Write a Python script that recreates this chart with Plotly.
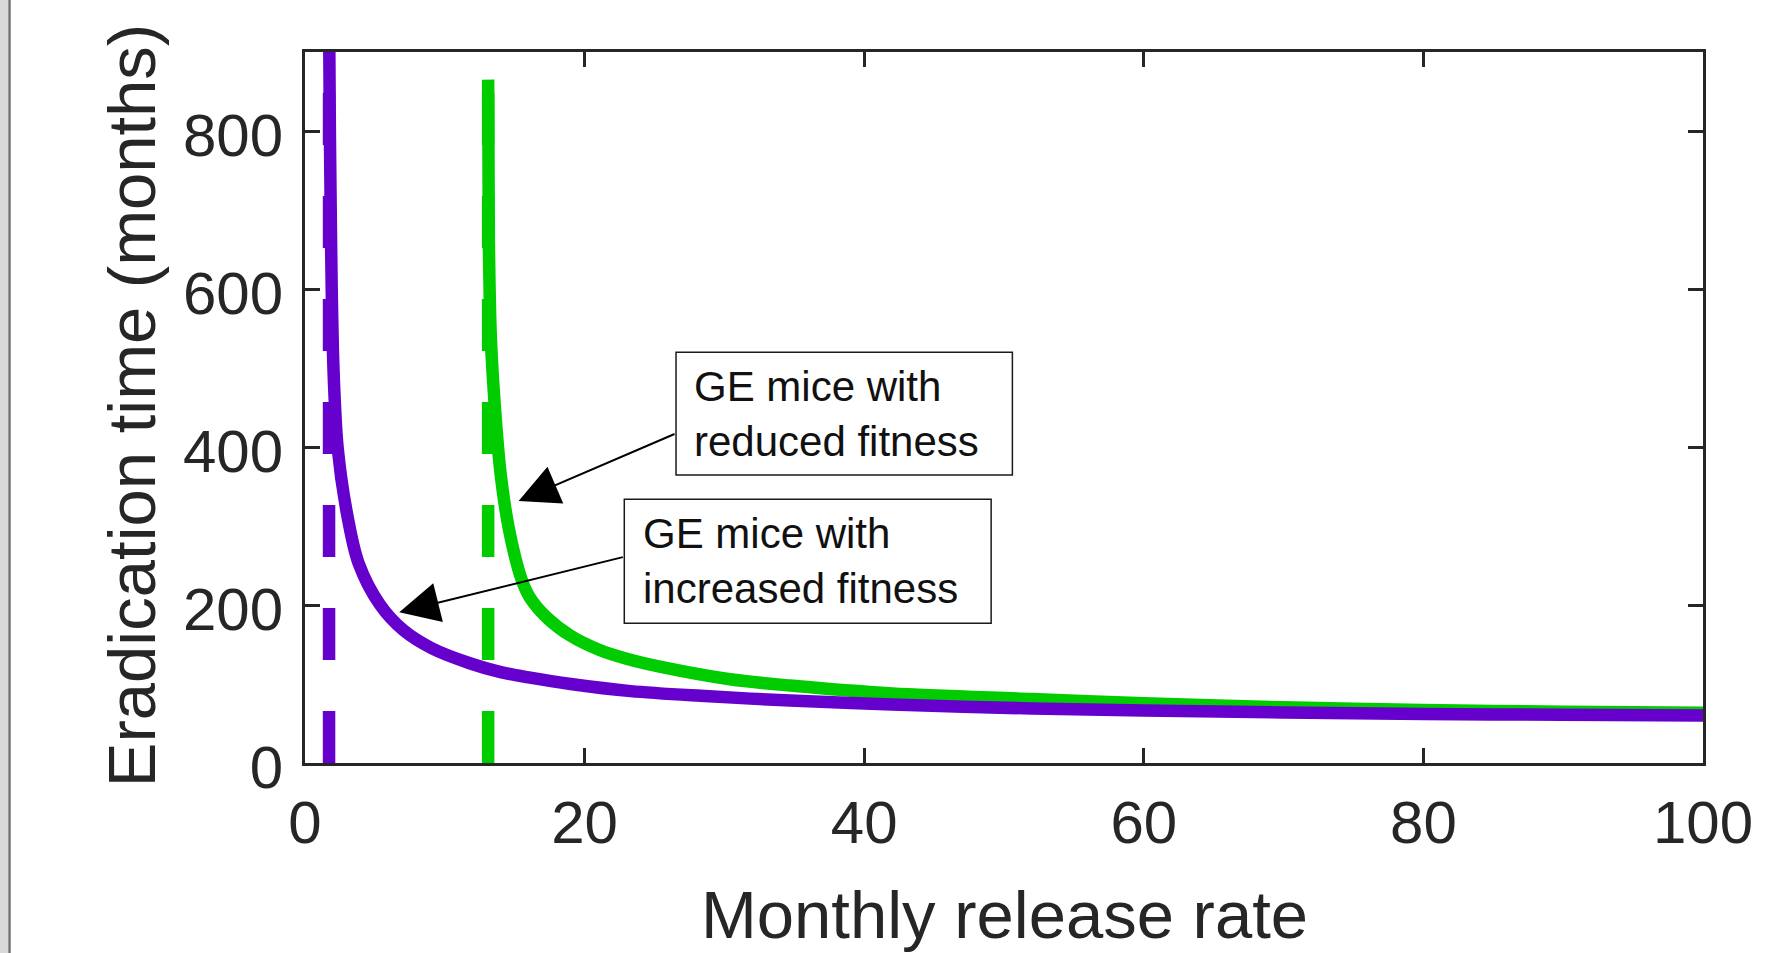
import plotly.graph_objects as go

# ---------------- data ----------------
# GE mice with increased fitness (purple)
inc_x = [1.74, 1.78, 1.84, 1.91, 2.0, 2.1, 2.33, 3.0, 3.83, 5.38, 7.05, 9.1,
         11.84, 14, 16.1, 19, 23.3, 28.3, 34.7, 42, 52, 60, 70, 80, 90, 100]
inc_y = [900, 800, 700, 600, 520, 470, 400, 316, 253, 200, 168, 145,
         126, 115, 108, 100, 91, 85, 79, 74, 69, 66.5, 64, 62, 61, 60]
# GE mice with reduced fitness (green)
red_x = [13.1, 13.15, 13.3, 13.58, 14.0, 14.6, 15.5, 16.1, 17.3, 19, 21.07, 23,
         25.64, 30.4, 34.7, 42, 52, 60, 70, 80, 90, 100]
red_y = [865, 662, 536, 451, 365, 295, 232, 209, 184, 161, 143, 132,
         121, 106, 98, 88, 81, 75.5, 70.5, 67, 65, 63.5]
# critical release rates (dashed vertical asymptotes)
inc_crit_x = [1.72, 1.72]
inc_crit_y = [0, 900]
red_crit_x = [13.1, 13.1]
red_crit_y = [0, 865]

x_ticks = [0, 20, 40, 60, 80, 100]
y_ticks = [0, 200, 400, 600, 800]

label_inc = "GE mice with<br>increased fitness"
label_red = "GE mice with<br>reduced fitness"

PURPLE = "#6600CC"
GREEN = "#00CC00"
AX = "#262626"
FONT = "Liberation Sans, Arial, Helvetica, sans-serif"
LW = 12.5
DASH = "52px,51px"

fig = go.Figure()
fig.add_trace(go.Scatter(x=red_crit_x, y=red_crit_y, mode="lines",
                         line=dict(color=GREEN, width=LW, dash=DASH), showlegend=False))
fig.add_trace(go.Scatter(x=red_x, y=red_y, mode="lines",
                         line=dict(color=GREEN, width=LW, shape="spline", smoothing=0.9),
                         showlegend=False))
fig.add_trace(go.Scatter(x=inc_crit_x, y=inc_crit_y, mode="lines",
                         line=dict(color=PURPLE, width=LW, dash=DASH), showlegend=False))
fig.add_trace(go.Scatter(x=inc_x, y=inc_y, mode="lines",
                         line=dict(color=PURPLE, width=LW, shape="spline", smoothing=0.9),
                         showlegend=False))

axis_common = dict(
    showline=True, linewidth=3, linecolor=AX, mirror="allticks",
    ticks="inside", ticklen=15, tickwidth=2.5, tickcolor=AX,
    showgrid=False, zeroline=False,
    tickfont=dict(family=FONT, size=60, color=AX),
)

fig.update_layout(
    width=1771, height=953,
    margin=dict(l=305, r=68, t=52, b=190),
    paper_bgcolor="white", plot_bgcolor="white",
    font=dict(family=FONT, color=AX),
    xaxis=dict(range=[0, 100], tickvals=x_ticks, ticklabelstandoff=5, **axis_common),
    yaxis=dict(range=[0, 900], tickvals=y_ticks, ticklabelstandoff=7,
               ticklabelshift=4, **axis_common),
)

# text boxes
fig.add_shape(type="rect", xref="x", yref="y", x0=26.54, x1=50.6, y0=364.6, y1=519.9,
              line=dict(color="#1a1a1a", width=1.5), fillcolor="white", layer="above")
fig.add_shape(type="rect", xref="x", yref="y", x0=22.84, x1=49.08, y0=176.8, y1=333.8,
              line=dict(color="#1a1a1a", width=1.5), fillcolor="white", layer="above")

fig.add_annotation(x=27.7, y=442.2, xref="x", yref="y", text=label_red, showarrow=False,
                   xanchor="left", yanchor="middle", align="left",
                   font=dict(family=FONT, size=42, color="#111111"))
fig.add_annotation(x=24.06, y=255.3, xref="x", yref="y", text=label_inc, showarrow=False,
                   xanchor="left", yanchor="middle", align="left",
                   font=dict(family=FONT, size=42, color="#111111"))

# arrows
fig.add_annotation(x=15.28, y=331.6, ax=26.54, ay=417.3, xref="x", yref="y",
                   axref="x", ayref="y", text="", showarrow=True,
                   arrowhead=2, arrowsize=4, arrowwidth=2, arrowcolor="black", standoff=0)
fig.add_annotation(x=6.74, y=190.8, ax=22.84, ay=261.1, xref="x", yref="y",
                   axref="x", ayref="y", text="", showarrow=True,
                   arrowhead=2, arrowsize=4, arrowwidth=2, arrowcolor="black", standoff=0)

# axis titles
fig.add_annotation(x=-0.1239, y=0.503, xref="paper", yref="paper",
                   text="Eradication time (months)", textangle=-90, showarrow=False,
                   xanchor="center", yanchor="middle",
                   font=dict(family=FONT, size=67, color=AX))
fig.add_annotation(x=0.5, y=-0.2135, xref="paper", yref="paper",
                   text="Monthly release rate", showarrow=False,
                   xanchor="center", yanchor="middle",
                   font=dict(family=FONT, size=67, color=AX))

# window border at the left edge
fig.add_shape(type="rect", xref="paper", yref="paper", x0=(0 - 305) / 1398, x1=(8 - 305) / 1398,
              y0=-0.5, y1=1.5, line=dict(width=0), fillcolor="#d9d9d9", layer="below")
fig.add_shape(type="line", xref="paper", yref="paper", x0=(9.5 - 305) / 1398, x1=(9.5 - 305) / 1398,
              y0=-0.5, y1=1.5, line=dict(color="#6e6e6e", width=2.4), layer="below")

fig.write_html("out.html")
